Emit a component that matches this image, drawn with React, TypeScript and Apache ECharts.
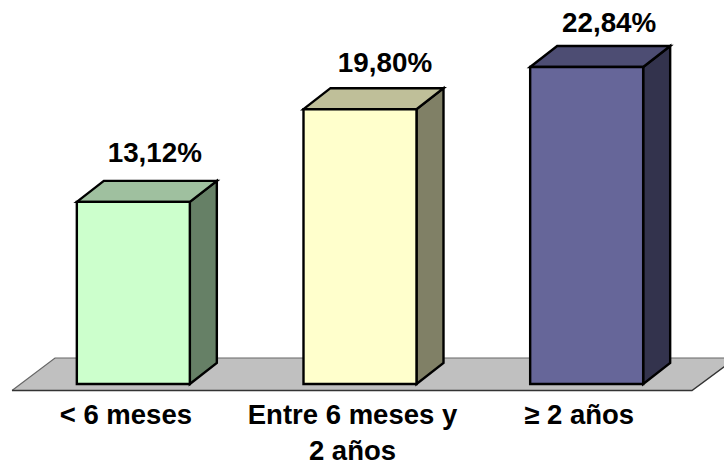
import React, { useEffect, useRef } from "react";
import * as echarts from "echarts";

const categories = ["< 6 meses", "Entre 6 meses y\n2 años", "≥ 2 años"];
const values = [13.12, 19.8, 22.84];
const valueLabels = ["13,12%", "19,80%", "22,84%"];
const frontColors = ["#CCFFCC", "#FFFFCC", "#666699"];
const topColors = ["#9FC09F", "#BFBF99", "#4D4D73"];
const sideColors = ["#668066", "#808066", "#33334D"];
const labelDx = [21.5, 25, 22.5];
const labelDy = [49, 47, 44];

const FONT = '"Liberation Sans", Arial, sans-serif';
const DEPTH_X = 27;
const DEPTH_Y = 21;
const HALF_W = 56.5;

export default function App() {
  const ref = useRef<HTMLDivElement>(null);
  useEffect(() => {
    const chart = echarts.init(ref.current!, null, { renderer: "svg" });
    const renderItem = (_: any, api: any) => {
      const i = api.value(0);
      const [cx, y1] = api.coord([i, api.value(1)]);
      const [, y0] = api.coord([i, 0]);
      const x0 = cx - HALF_W;
      const x1 = cx + HALF_W;
      const stroke = { stroke: "#000", lineWidth: 2.4, lineJoin: "miter" };
      return {
        type: "group",
        children: [
          {
            type: "polygon",
            shape: { points: [[x1, y0], [x1 + DEPTH_X, y0 - DEPTH_Y], [x1 + DEPTH_X, y1 - DEPTH_Y], [x1, y1]] },
            style: { fill: sideColors[i], ...stroke },
          },
          {
            type: "polygon",
            shape: { points: [[x0, y1], [x0 + DEPTH_X, y1 - DEPTH_Y], [x1 + DEPTH_X, y1 - DEPTH_Y], [x1, y1]] },
            style: { fill: topColors[i], ...stroke },
          },
          {
            type: "rect",
            shape: { x: x0, y: y1, width: x1 - x0, height: y0 - y1 },
            style: { fill: frontColors[i], ...stroke },
          },
          {
            type: "text",
            style: {
              text: valueLabels[i],
              x: cx + labelDx[i],
              y: y1 - labelDy[i],
              align: "center",
              verticalAlign: "middle",
              fill: "#000",
              font: `bold 27.8px ${FONT}`,
            },
          },
        ],
      };
    };
    chart.setOption({
      animation: false,
      backgroundColor: "#fff",
      grid: { left: 20, right: 24, top: 37, bottom: 80, outerBoundsMode: "none", containLabel: false },
      xAxis: {
        type: "category",
        data: categories,
        axisLine: { show: false },
        axisTick: { show: false },
        axisLabel: {
          color: "#000",
          fontFamily: FONT,
          fontWeight: "bold",
          fontSize: 27.5,
          lineHeight: 35.5,
          margin: 13,
          interval: 0,
          padding: [0, 15, 0, 0],
          hideOverlap: false,
        },
      },
      yAxis: { type: "value", min: 0, max: 25, show: false },
      graphic: [
        {
          type: "polygon",
          z: 0,
          shape: { points: [[12, 390.5], [55, 358], [736, 358], [692, 390.5]] },
          style: { fill: "#C0C0C0", stroke: "none" },
        },
        {
          type: "polyline",
          z: 0,
          shape: { points: [[12, 390.5], [55, 358], [736, 358]] },
          style: { fill: "none", stroke: "#666", lineWidth: 1.2 },
        },
        {
          type: "polyline",
          z: 0,
          shape: { points: [[12, 390.5], [692, 390.5], [736, 358]] },
          style: { fill: "none", stroke: "#333", lineWidth: 1.4 },
        },
      ],
      series: [
        {
          type: "custom",
          z: 5,
          clip: false,
          renderItem,
          encode: { x: 0, y: 1 },
          data: values.map((v, i) => [i, v]),
        },
      ],
    });
    return () => chart.dispose();
  }, []);
  return <div ref={ref} style={{ position: "fixed", left: 0, top: 0, width: 724, height: 464 }} />;
}
